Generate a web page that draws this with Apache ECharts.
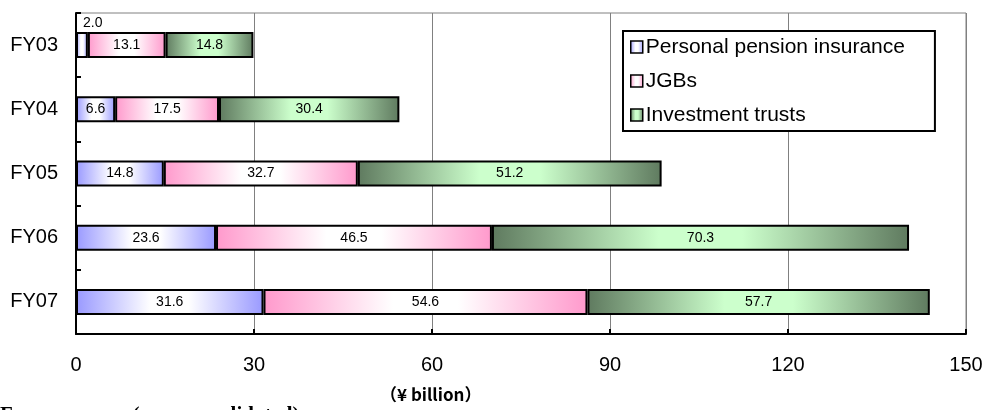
<!DOCTYPE html>
<html>
<head>
<meta charset="utf-8">
<script src="https://cdn.jsdelivr.net/npm/echarts@6/dist/echarts.min.js"></script>
<style>
  html, body { margin: 0; padding: 0; background: #fff; }
  #chart { width: 986px; height: 410px; }
</style>
</head>
<body>
<div id="chart"></div>
<script>
// Sales balances by product, fiscal years 2003-2007 (¥ billion)
const years = ['FY03', 'FY04', 'FY05', 'FY06', 'FY07'];
const pensionInsurance = [2.0, 6.6, 14.8, 23.6, 31.6];
const jgbs = [13.1, 17.5, 32.7, 46.5, 54.6];
const investmentTrusts = [14.8, 30.4, 51.2, 70.3, 57.7];
const seriesNames = ['Personal pension insurance', 'JGBs', 'Investment trusts'];
const xTicks = { min: 0, max: 150, interval: 30 };

// Bars shade from the edge colour to a light centre and back again
function barGradient(edge, centre) {
  return new echarts.graphic.LinearGradient(0, 0, 1, 0, [
    { offset: 0, color: edge },
    { offset: 0.4, color: centre },
    { offset: 0.6, color: centre },
    { offset: 1, color: edge }
  ]);
}
const fills = [
  barGradient('#9999ff', '#ffffff'),
  barGradient('#ff99cc', '#ffffff'),
  barGradient('#5f7a5f', '#ccffcc')
];

const labelStyle = { show: true, position: 'inside', color: '#000', fontSize: 14, fontFamily: 'Arial, "Liberation Sans", sans-serif' };

function makeSeries(name, values, fill) {
  return {
    name: name,
    type: 'bar',
    stack: 'total',
    barWidth: 26,
    itemStyle: { color: fill, borderColor: '#000', borderWidth: 2 },
    label: Object.assign({}, labelStyle, { formatter: p => p.value.toFixed(1) }),
    data: values.map(v => v)
  };
}

const series = [
  makeSeries(seriesNames[0], pensionInsurance, fills[0]),
  makeSeries(seriesNames[1], jgbs, fills[1]),
  makeSeries(seriesNames[2], investmentTrusts, fills[2])
];
// The thin first bar carries its value above itself
series[0].data[0] = {
  value: pensionInsurance[0],
  label: { position: [7, -16], align: 'left', verticalAlign: 'top' }
};

const chart = echarts.init(document.getElementById('chart'), null, { renderer: 'canvas' });
chart.setOption({
  animation: false,
  backgroundColor: '#fff',
  grid: {
    left: 76, right: 20, top: 13, bottom: 76,
    show: true, borderColor: '#808080', borderWidth: 1, backgroundColor: 'transparent'
  },
  legend: {
    orient: 'vertical',
    left: 623, top: 31,
    width: 280,
    padding: [5, 30, 5, 7],
    itemGap: 12,
    itemWidth: 12, itemHeight: 12,
    icon: 'rect',
    backgroundColor: '#fff',
    borderColor: '#000', borderWidth: 2,
    itemStyle: { borderColor: '#000', borderWidth: 1.5 },
    textStyle: { color: '#000', fontSize: 21, lineHeight: 22, padding: [0, 0, 0, -2], fontFamily: 'Arial, "Liberation Sans", sans-serif' },
    data: seriesNames
  },
  xAxis: {
    type: 'value',
    min: xTicks.min, max: xTicks.max, interval: xTicks.interval,
    axisLine: { show: true, lineStyle: { color: '#000', width: 2 } },
    axisTick: { show: true, inside: true, length: 5, lineStyle: { color: '#000', width: 2 } },
    splitLine: { show: true, lineStyle: { color: '#808080', width: 1 } },
    axisLabel: { color: '#000', fontSize: 20, margin: 21, fontFamily: 'Arial, "Liberation Sans", sans-serif' }
  },
  yAxis: {
    type: 'category',
    data: years,
    inverse: true,
    axisLine: { show: true, lineStyle: { color: '#000', width: 2 } },
    axisTick: { show: true, inside: true, length: 5, lineStyle: { color: '#000', width: 2 } },
    splitLine: { show: false },
    axisLabel: { color: '#000', fontSize: 20, margin: 18, fontFamily: 'Arial, "Liberation Sans", sans-serif' }
  },
  graphic: [
    {
      type: 'text', left: 380, top: 386,
      style: { text: '（¥ billion）', fill: '#000', font: 'bold 17px "Noto Sans CJK JP", sans-serif' }
    },
    {
      type: 'text', left: 0, top: 405,
      style: { text: 'Former group (non-consolidated)', fill: '#000', font: 'bold 21px "Liberation Serif", "Times New Roman", serif' }
    }
  ],
  series: series
});
</script>
</body>
</html>
